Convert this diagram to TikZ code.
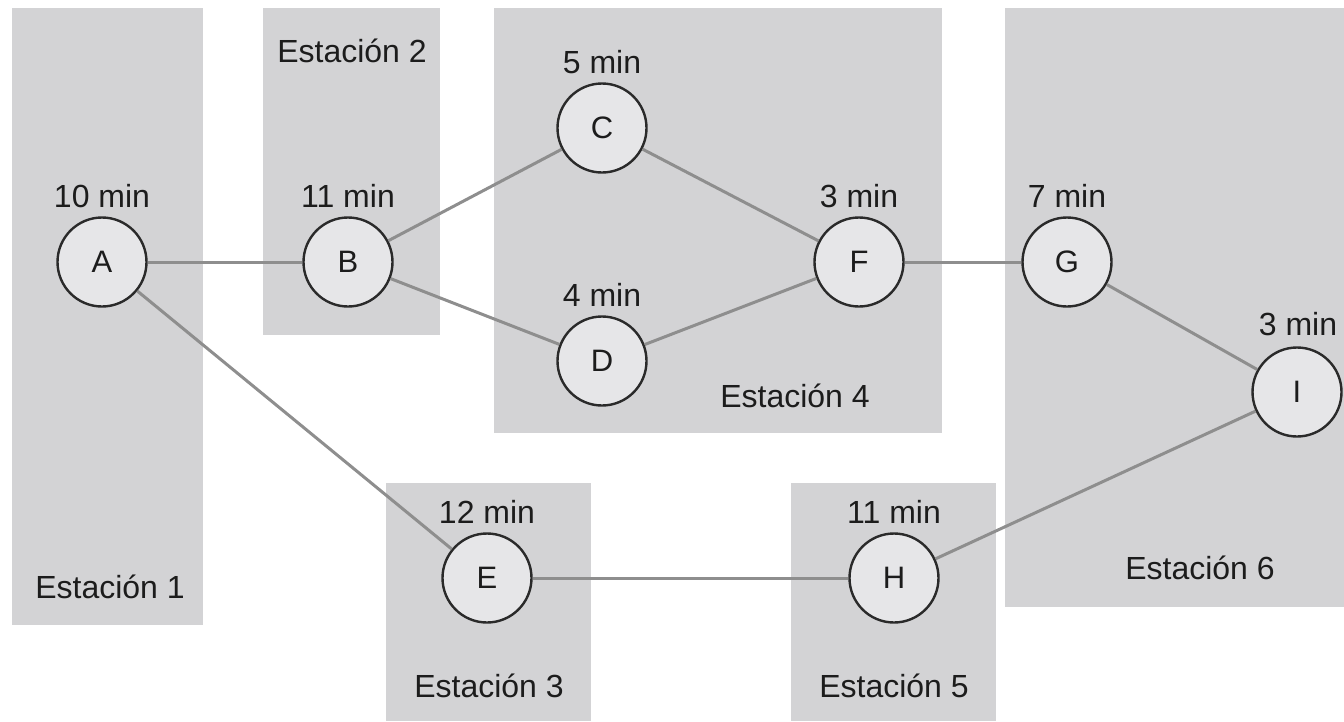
\documentclass[tikz,border=0pt]{standalone}
\usepackage{fontspec}
\setmainfont{Liberation Sans}
\definecolor{stationfill}{HTML}{D3D3D5}
\definecolor{taskfill}{HTML}{E6E6E8}
\definecolor{taskrim}{HTML}{2A2A2A}
\definecolor{linkgray}{HTML}{8E8E8E}
\definecolor{ink}{HTML}{1C1C1C}
\begin{document}
\begin{tikzpicture}[x=1pt,y=-1pt,
  station/.style={fill=stationfill,draw=none},
  task/.style={circle,draw=taskrim,fill=taskfill,line width=2.4pt,
    minimum size=89pt,inner sep=0pt,font=\fontsize{31}{36}\selectfont,text=ink},
  timelbl/.style={anchor=base,font=\fontsize{32}{38}\selectfont,text=ink,inner sep=0pt},
  stlbl/.style={anchor=base,font=\fontsize{32}{38}\selectfont,text=ink,inner sep=0pt},
  link/.style={draw=linkgray,line width=3pt}]
\useasboundingbox (0,0) rectangle (1344,721);

% work stations
\fill[station] (12,8) rectangle (203,625);
\fill[station] (263,8) rectangle (440,335);
\fill[station] (386,483) rectangle (591,721);
\fill[station] (494,8) rectangle (942,433);
\fill[station] (791,483) rectangle (996,721);
\fill[station] (1005,8) rectangle (1344,607);

\node[stlbl] (s1) at (110,598) {Estación 1};
\node[stlbl] (s2) at (352,62) {Estación 2};
\node[stlbl] (s3) at (489,697) {Estación 3};
\node[stlbl] (s4) at (795,407) {Estación 4};
\node[stlbl] (s5) at (894,697) {Estación 5};
\node[stlbl] (s6) at (1200,579) {Estación 6};

% tasks
\node[task] (A) at (102,262) {A};
\node[task] (B) at (348,262) {B};
\node[task] (C) at (602,128) {C};
\node[task] (D) at (602,361) {D};
\node[task] (E) at (487,578) {E};
\node[task] (F) at (859,262) {F};
\node[task] (G) at (1067,262) {G};
\node[task] (H) at (894,578) {H};
\node[task] (I) at (1297,392) {I};

% task times
\node[timelbl] (tA) at ([yshift=55pt]A.center) {10 min};
\node[timelbl] (tB) at ([yshift=55pt]B.center) {11 min};
\node[timelbl] (tC) at ([yshift=55pt]C.center) {5 min};
\node[timelbl] (tD) at ([yshift=55pt]D.center) {4 min};
\node[timelbl] (tE) at ([yshift=55pt]E.center) {12 min};
\node[timelbl] (tF) at ([yshift=55pt]F.center) {3 min};
\node[timelbl] (tG) at ([yshift=55pt]G.center) {7 min};
\node[timelbl] (tH) at ([yshift=55pt]H.center) {11 min};
\node[timelbl] (tI) at ([xshift=1pt,yshift=57pt]I.center) {3 min};

% precedence links
\path[link] (A) -- (B);
\path[link] (A) -- (E);
\path[link] (B) -- (C);
\path[link] (B) -- (D);
\path[link] (C) -- (F);
\path[link] (D) -- (F);
\path[link] (F) -- (G);
\path[link] (G) -- (I);
\path[link] (E) -- (H);
\path[link] (H) -- (I);
\end{tikzpicture}
\end{document}
